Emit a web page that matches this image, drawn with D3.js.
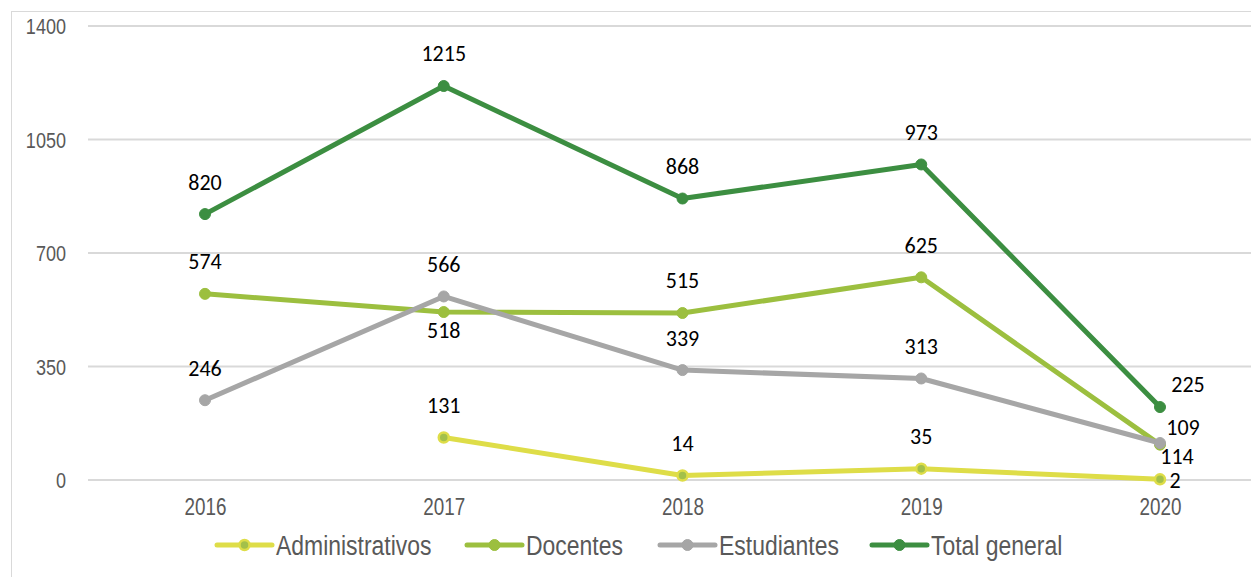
<!DOCTYPE html>
<html><head><meta charset="utf-8">
<script src="https://cdn.jsdelivr.net/npm/d3@7"></script>
<style>
body{margin:0;background:#fff;}
svg{display:block;}
</style></head>
<body><svg id="c" width="1251" height="577"></svg>
<script>
const years = ["2016","2017","2018","2019","2020"];
const administrativos = [null,131,14,35,2];
const docentes = [574,518,515,625,109];
const estudiantes = [246,566,339,313,114];
const totalGeneral = [820,1215,868,973,225];
const yTicks = [0,350,700,1050,1400];
const seriesNames = ["Administrativos","Docentes","Estudiantes","Total general"];

const colors = {
  "Administrativos": {line:"#DEDD48", fill:"#A3C04A", stroke:"#DEDD48"},
  "Docentes": {line:"#9CBF3F", fill:"#9CBF3F", stroke:"#9CBF3F"},
  "Estudiantes": {line:"#A6A6A6", fill:"#A6A6A6", stroke:"#A6A6A6"},
  "Total general": {line:"#3C8E41", fill:"#3C8E41", stroke:"#3C8E41"}
};
const placement = {
  "Administrativos": ["a","a","a","a","r0"],
  "Docentes": ["a","b","a","a","r109"],
  "Estudiantes": ["a","a","a","a","r114"],
  "Total general": ["a","a","a","a","r225"]
};
const values = {
  "Administrativos": administrativos,
  "Docentes": docentes,
  "Estudiantes": estudiantes,
  "Total general": totalGeneral
};
const narrowFont = "'Liberation Sans',Arial,sans-serif";

const svg = d3.select("#c");
svg.append("rect").attr("x",11.5).attr("y",11.5).attr("width",1260).attr("height",600)
  .attr("fill","none").attr("stroke","#D9D9D9").attr("stroke-width",1);

const x = d3.scalePoint().domain(years).range([205,1160]);
const y = d3.scaleLinear().domain([0,1400]).range([480,26]);

svg.append("g").selectAll("line").data(yTicks).join("line")
  .attr("x1",88).attr("x2",1251)
  .attr("y1",d=>y(d)).attr("y2",d=>y(d))
  .attr("stroke","#D9D9D9").attr("stroke-width",2);

const yAxis = d3.axisLeft(y).tickValues(yTicks).tickFormat(d3.format("d")).tickSize(0).tickPadding(0);
const gy = svg.append("g").attr("transform","translate(66,0)").call(yAxis);
gy.select(".domain").remove();
gy.selectAll("text").attr("font-family",narrowFont)
  .attr("font-size",22).attr("fill","#595959").attr("x",0).attr("dy","0.35em")
  .attr("transform","scale(0.82,1)");

const xAxis = d3.axisBottom(x).tickSize(0).tickPadding(0);
const gx = svg.append("g").attr("transform","translate(0,499)").call(xAxis);
gx.select(".domain").remove();
gx.selectAll("text").attr("font-family",narrowFont)
  .attr("font-size",23).attr("fill","#595959").attr("y",0).attr("dy","0.71em")
  .attr("transform","scale(0.82,1)");

const line = d3.line().defined(d=>d.v!==null).x(d=>x(d.year)).y(d=>y(d.v));

seriesNames.forEach(name=>{
  const data = years.map((yr,i)=>({year:yr,v:values[name][i]}));
  const c = colors[name];
  const g = svg.append("g");
  g.append("path").datum(data).attr("d",line).attr("fill","none")
    .attr("stroke",c.line).attr("stroke-width",5).attr("stroke-linejoin","round").attr("stroke-linecap","round");
  g.selectAll("circle").data(data.filter(d=>d.v!==null)).join("circle")
    .attr("cx",d=>x(d.year)).attr("cy",d=>y(d.v))
    .attr("r", name==="Administrativos"?5:5.5)
    .attr("fill",c.fill).attr("stroke",c.stroke).attr("stroke-width",name==="Administrativos"?2.5:1);
});

const lab = svg.append("g").attr("font-family","Carlito,'Noto Sans',sans-serif")
  .attr("font-size",22).attr("fill","#000");
seriesNames.forEach(name=>{
  years.forEach((yr,i)=>{
    const v = values[name][i];
    if(v===null) return;
    const p = placement[name][i];
    let tx = x(yr), ty = y(v);
    if(p==="a"){ ty -= 32; }
    else if(p==="b"){ ty += 18; }
    else if(p==="r225"){ tx += 28; ty -= 23; }
    else if(p==="r109"){ tx += 23; ty -= 17; }
    else if(p==="r114"){ tx += 17; ty += 13; }
    else if(p==="r0"){ tx += 15; ty += 1; }
    lab.append("text").attr("x",tx).attr("y",ty).attr("text-anchor","middle")
      .attr("dominant-baseline","central").text(v);
  });
});

const legendX = [217,467,660,872];
const lg = svg.append("g");
seriesNames.forEach((name,i)=>{
  const c = colors[name];
  const g = lg.append("g").attr("transform",`translate(${legendX[i]},545)`);
  g.append("line").attr("x1",0).attr("x2",55).attr("y1",0).attr("y2",0)
    .attr("stroke",c.line).attr("stroke-width",5).attr("stroke-linecap","round");
  g.append("circle").attr("cx",27.5).attr("cy",0).attr("r",name==="Administrativos"?5:5.5)
    .attr("fill",c.fill).attr("stroke",c.stroke).attr("stroke-width",name==="Administrativos"?2.5:1);
  g.append("text").attr("transform","translate(59,0) scale(0.85,1)").attr("dominant-baseline","central")
    .attr("font-family",narrowFont)
    .attr("font-size",27).attr("fill","#595959").text(name);
});
</script></body></html>
